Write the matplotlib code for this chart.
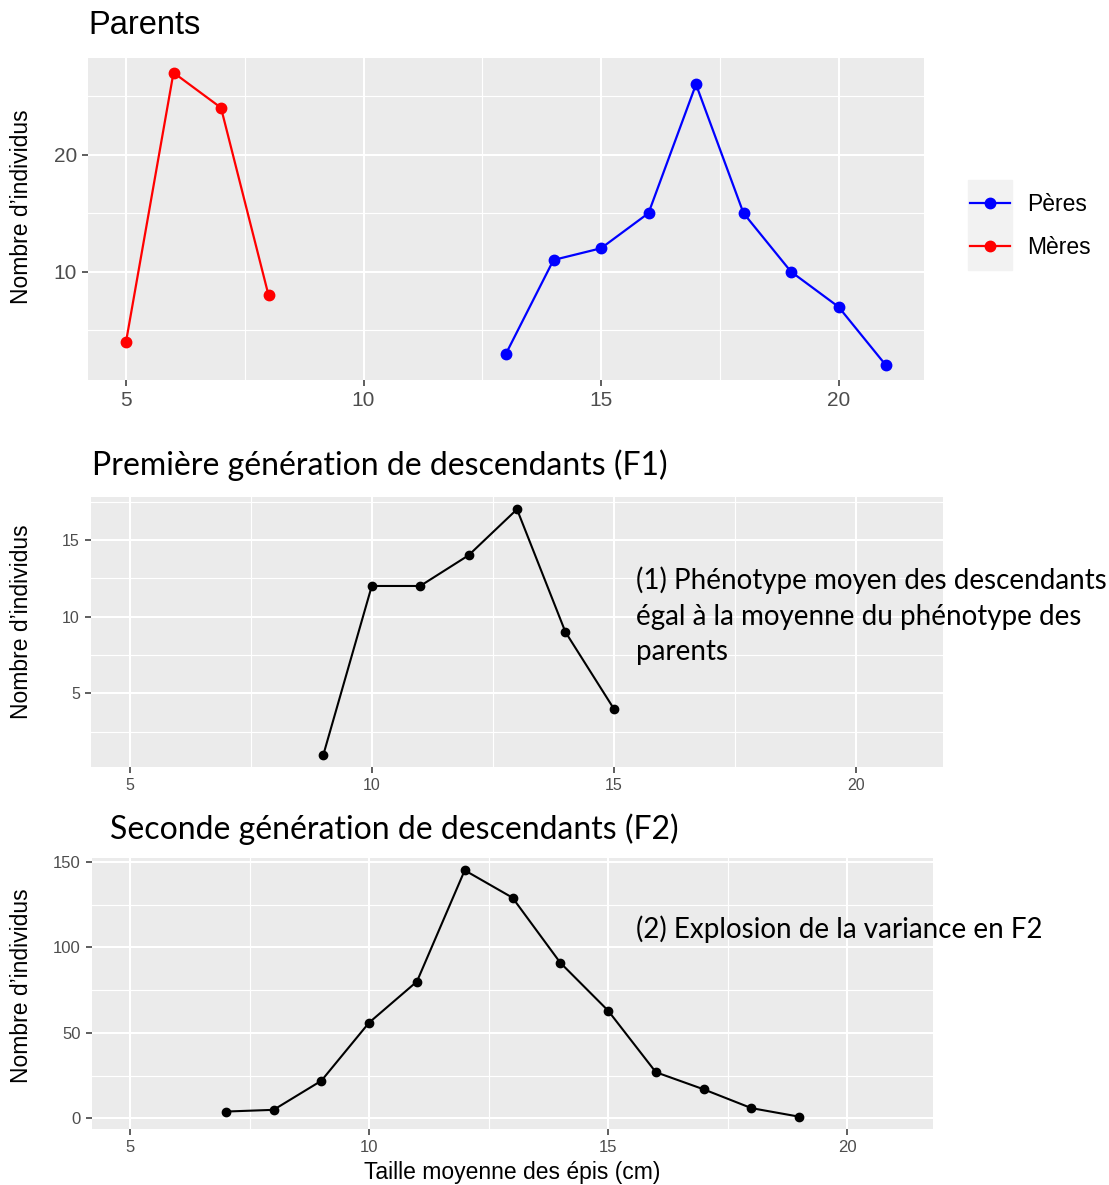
import numpy as np
import matplotlib.pyplot as plt
from matplotlib.ticker import MultipleLocator
from matplotlib.patches import Rectangle

# --- donnees ---
meres_x = [5, 6, 7, 8]
meres_y = [4, 27, 24, 8]
peres_x = [13, 14, 15, 16, 17, 18, 19, 20, 21]
peres_y = [3, 11, 12, 15, 26, 15, 10, 7, 2]

f1_x = [9, 10, 11, 12, 13, 14, 15]
f1_y = [1, 12, 12, 14, 17, 9, 4]

f2_x = [7, 8, 9, 10, 11, 12, 13, 14, 15, 16, 17, 18, 19]
f2_y = [4, 5, 22, 56, 80, 145, 129, 91, 63, 27, 17, 6, 1]

x_ticks = [5, 10, 15, 20]
titre_f1 = "Première génération de descendants (F1)"
titre_f2 = "Seconde génération de descendants (F2)"
note_f1 = "(1) Phénotype moyen des descendants\négal à la moyenne du phénotype des\nparents"
note_f2 = "(2) Explosion de la variance en F2"
ylabel = "Nombre d\u2019individus"
xlabel = "Taille moyenne des épis (cm)"

W, H = 1109, 1185
fig = plt.figure(figsize=(W / 100, H / 100), dpi=100)
plt.rcParams['font.family'] = ['Liberation Sans', 'DejaVu Sans']
calibri = ['Lato', 'DejaVu Sans']


def axe(x0, y0, x1, y1):
    return fig.add_axes([x0 / W, 1 - y1 / H, (x1 - x0) / W, (y1 - y0) / H])


def style_gg(ax, ymaj, ymin, tick_size):
    ax.set_facecolor('#EBEBEB')
    for s in ax.spines.values():
        s.set_visible(False)
    ax.xaxis.set_major_locator(MultipleLocator(5))
    ax.xaxis.set_minor_locator(MultipleLocator(2.5))
    ax.yaxis.set_major_locator(MultipleLocator(ymaj))
    ax.yaxis.set_minor_locator(MultipleLocator(ymin))
    ax.grid(which='major', color='white', lw=1.5)
    ax.grid(which='minor', color='white', lw=0.8)
    ax.set_axisbelow(True)
    ax.tick_params(which='major', length=4, width=1.1, color='#333333',
                   labelcolor='#4D4D4D', labelsize=tick_size, pad=4)
    ax.tick_params(which='minor', length=0)
    ax.set_xlim(4.2, 21.8)


def ylab(yc):
    fig.text(22 / W, 1 - yc / H, ylabel, rotation=90, fontsize=16.5,
             ha='center', va='center')


# --- Parents ---
ax1 = axe(88, 58, 924, 380)
style_gg(ax1, 10, 5, 15)
ax1.plot(peres_x, peres_y, color='blue', lw=1.6, marker='o', ms=7.5, label='Pères')
ax1.plot(meres_x, meres_y, color='red', lw=1.6, marker='o', ms=7.5, label='Mères')
ax1.set_ylim(0.75, 28.25)
ax1.set_xticks(x_ticks)
ylab(207)
fig.text(88 / W, 1 - 25 / H, "Parents", fontsize=23.5, ha='left', va='center')

# fond gris des cles de legende
fig.patches.append(Rectangle((968 / W, 1 - 270 / H), 44 / W, 90 / H,
                             transform=fig.transFigure, color='#F2F2F2', zorder=-1))
leg = ax1.legend(loc='center left', bbox_to_anchor=(970 / W, 1 - 226 / H),
                 bbox_transform=fig.transFigure, frameon=False, borderpad=0,
                 borderaxespad=0, fontsize=16.5, handlelength=1.75,
                 labelspacing=0.85, handletextpad=0.75)

# --- F1 ---
ax2 = axe(91, 497, 943, 767)
style_gg(ax2, 5, 2.5, 11.5)
ax2.plot(f1_x, f1_y, color='black', lw=1.5, marker='o', ms=6)
ax2.set_ylim(0.2, 17.8)
ax2.set_xticks(x_ticks)
ylab(622)
fig.text(92 / W, 1 - 465 / H, titre_f1, family=calibri, fontsize=23, va='center', ha='left')
fig.text(636 / W, 1 - 616 / H, note_f1, family=calibri, fontsize=20, va='center', ha='left',
         linespacing=1.46)

# --- F2 ---
ax3 = axe(92, 858, 933, 1129)
style_gg(ax3, 50, 25, 12)
ax3.plot(f2_x, f2_y, color='black', lw=1.5, marker='o', ms=6)
ax3.set_ylim(-6.2, 152.2)
ax3.set_xticks(x_ticks)
ylab(986)
fig.text(512 / W, 1 - 1172 / H, xlabel, fontsize=16.5, ha='center', va='center')
fig.text(110 / W, 1 - 829 / H, titre_f2, family=calibri, fontsize=23, va='center', ha='left')
fig.text(636 / W, 1 - 929 / H, note_f2, family=calibri, fontsize=20, va='center', ha='left')

fig.savefig('out.png', dpi=100)
